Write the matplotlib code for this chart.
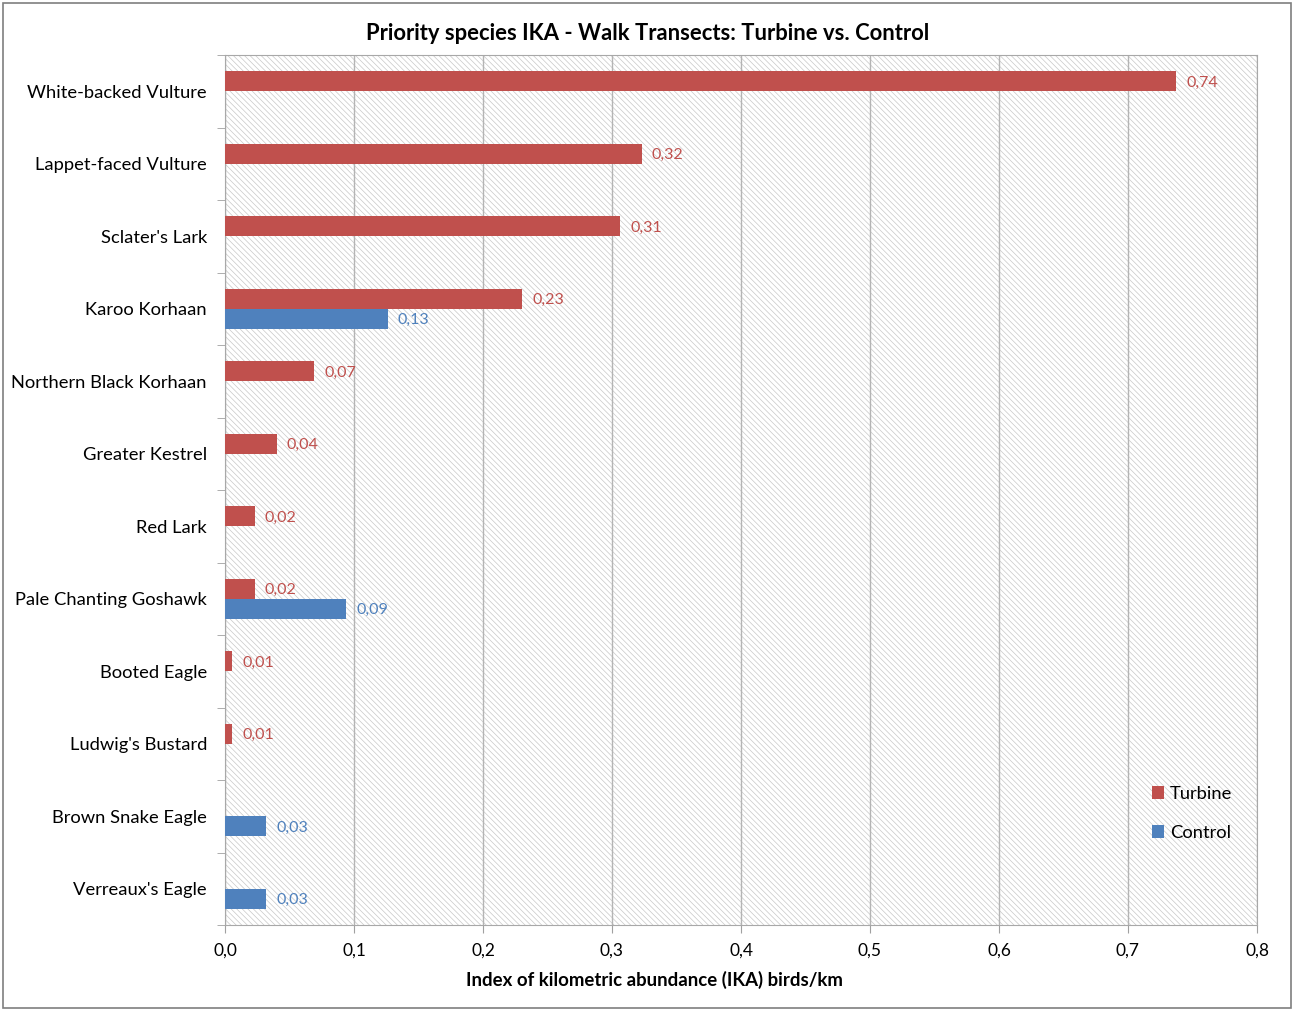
import numpy as np
import matplotlib.pyplot as plt
from matplotlib.patches import Rectangle

plt.rcParams['font.family'] = ['Lato', 'DejaVu Sans']
plt.rcParams['hatch.linewidth'] = 0.5
plt.rcParams['hatch.color'] = '#c8c8c8'

# Données (de haut en bas)
species = ["White-backed Vulture", "Lappet-faced Vulture", "Sclater's Lark",
           "Karoo Korhaan", "Northern Black Korhaan", "Greater Kestrel",
           "Red Lark", "Pale Chanting Goshawk", "Booted Eagle",
           "Ludwig's Bustard", "Brown Snake Eagle", "Verreaux's Eagle"]
turbine = [0.737, 0.323, 0.306, 0.230, 0.069, 0.040, 0.023, 0.023, 0.0055, 0.0055, 0, 0]
control = [0, 0, 0, 0.126, 0, 0, 0, 0.094, 0, 0, 0.032, 0.032]
xticks = [0.0, 0.1, 0.2, 0.3, 0.4, 0.5, 0.6, 0.7, 0.8]

red = '#C0504D'
blue = '#4F81BD'

fig = plt.figure(figsize=(12.93, 10.10), dpi=100)
ax = fig.add_axes([225 / 1293, 1 - 925 / 1010, (1257 - 225) / 1293, (925 - 55) / 1010])

# fond hachuré
ax.add_patch(Rectangle((0, 0), 1, 1, transform=ax.transAxes, facecolor='white',
                       edgecolor='#c8c8c8', hatch='\\\\\\\\\\\\', lw=0, zorder=0))

y = np.arange(len(species))
h = 0.275
b1 = ax.barh(y - h / 2, turbine, height=h, color=red, zorder=3, label='Turbine')
b2 = ax.barh(y + h / 2, control, height=h, color=blue, zorder=3, label='Control')

for bars, vals, col in [(b1, turbine, red), (b2, control, blue)]:
    for bar, v in zip(bars, vals):
        if v > 0:
            ax.text(v + 0.008, bar.get_y() + bar.get_height() / 2 + 0.02,
                    f"{v:.2f}".replace('.', ','), color=col, fontsize=11.5,
                    va='center', ha='left', zorder=4)

ax.set_xlim(0, 0.8)
ax.set_ylim(len(species) - 0.5, -0.5)
ax.set_xticks(xticks)
ax.set_xticklabels([f"{t:.1f}".replace('.', ',') for t in xticks], fontsize=12.5)
ax.set_yticks(y)
ax.set_yticklabels(species, fontsize=13.2)
ax.set_yticks(np.arange(len(species) + 1) - 0.5, minor=True)
ax.tick_params(axis='y', which='major', length=0, pad=13)
ax.tick_params(axis='y', which='minor', length=6, color='#a0a0a0', direction='out')
ax.tick_params(axis='x', length=6, color='#a0a0a0', direction='out', pad=7)

ax.grid(axis='x', color='#b4b4b4', lw=1, zorder=1)
ax.set_axisbelow(True)
for s in ax.spines.values():
    s.set_color('#a8a8a8')

ax.set_xlabel('Index of kilometric abundance (IKA) birds/km', fontsize=13.4,
              fontweight='bold')
ax.xaxis.set_label_coords((654 - 225) / 1032, -(971 - 925) / 870, transform=ax.transAxes)
fig.text(648 / 1293, 1 - 33 / 1010,
         'Priority species IKA - Walk Transects: Turbine vs. Control',
         fontsize=15.8, fontweight='bold', ha='center', va='center')

ax.legend(loc='lower right', bbox_to_anchor=(0.992, 0.078), frameon=False,
          fontsize=13.2, handlelength=0.7, handleheight=0.7, handletextpad=0.3,
          labelspacing=1.22)

# bordure extérieure
fig.patches.append(Rectangle((3 / 1293, 2 / 1010), 1288 / 1293, 1005 / 1010,
                             transform=fig.transFigure, fill=False,
                             edgecolor='#7f7f7f', lw=1.2))

fig.savefig('out.png', dpi=100)
